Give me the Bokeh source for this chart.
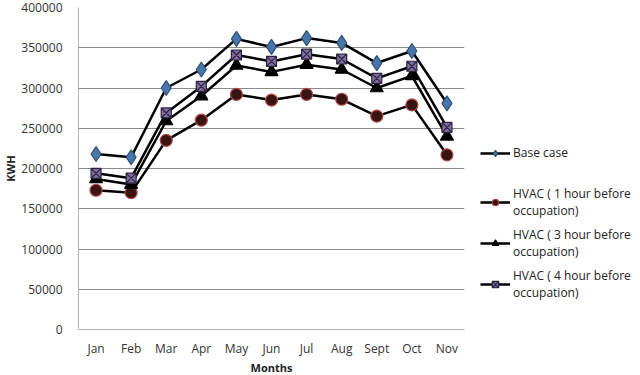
from bokeh.plotting import figure
from bokeh.models import (FactorRange, Range1d, SingleIntervalTicker, BasicTickFormatter,
                          Legend, LegendItem, ColumnDataSource)
from bokeh.embed import file_html
from bokeh.resources import INLINE

months = ["Jan", "Feb", "Mar", "Apr", "May", "Jun", "Jul", "Aug", "Sept", "Oct", "Nov"]
base_case = [218000, 214000, 300000, 323000, 361000, 351000, 362000, 356000, 331000, 346000, 281000]
hvac_1h = [173000, 170000, 235000, 260000, 292000, 285000, 292000, 286000, 265000, 279000, 217000]
hvac_3h = [187000, 180000, 259000, 290000, 328000, 320000, 329000, 323000, 300000, 315000, 240000]
hvac_4h = [194000, 188000, 269000, 302000, 341000, 333000, 342000, 336000, 312000, 327000, 251000]

series = [
    (" \nBase case\n ", base_case, "diamond", "#4a75a8", "#2c4f78", 15),
    ("HVAC ( 1 hour before\noccupation)", hvac_1h, "circle", "#3a1414", "#b04848", 12),
    ("HVAC ( 3 hour before\noccupation)", hvac_3h, "triangle", "#000000", "#000000", 13),
    ("HVAC ( 4 hour before\noccupation)", hvac_4h, "square_x", "#7f6f9f", "#2a2440", 10),
]

FONT = "Open Sans"

p = figure(x_range=FactorRange(*months, range_padding=0), y_range=Range1d(0, 400000),
           frame_width=386, frame_height=322, output_backend="svg", toolbar_location=None,
           min_border_left=78, min_border_top=7, min_border_bottom=0, min_border_right=0)
p.outline_line_color = None
p.background_fill_color = "white"

items = []
for name, vals, marker, fill, line, size in series:
    src = ColumnDataSource(dict(x=months, y=vals))
    r1 = p.line("x", "y", source=src, line_color="black", line_width=2.5)
    r2 = p.scatter("x", "y", source=src, marker=marker, size=size, fill_color=fill,
                   line_color=line, line_width=1.2)
    items.append(LegendItem(label=name, renderers=[r1, r2]))

legend = Legend(items=items, location=(16, 28), border_line_color=None,
                background_fill_alpha=0, label_text_font=FONT, label_text_font_size="12px",
                label_text_color="#222222", glyph_width=30, glyph_height=16,
                label_height=16, spacing=7, padding=0, margin=0, label_standoff=3)
p.add_layout(legend, "right")
p.min_border_right = 176

p.yaxis.ticker = SingleIntervalTicker(interval=50000)
p.yaxis.formatter = BasicTickFormatter(use_scientific=False)
p.xaxis.axis_label = "Months"
p.yaxis.axis_label = "KWH"
for ax in (p.xaxis, p.yaxis):
    ax.axis_label_text_font = FONT
    ax.axis_label_text_font_size = "11px"
    ax.axis_label_text_font_style = "bold"
    ax.axis_label_text_color = "#222222"
    ax.major_label_text_font = FONT
    ax.major_label_text_font_size = "12px"
    ax.major_label_text_color = "#333333"
    ax.major_tick_line_color = None
    ax.minor_tick_line_color = None
    ax.axis_line_color = "#b0b0b0"
p.xaxis.axis_label_standoff = 0
p.yaxis.axis_label_standoff = 0
p.xaxis.major_label_standoff = 4
p.yaxis.major_label_standoff = 10
p.xgrid.grid_line_color = None
p.ygrid.grid_line_color = "#8a8a8a"
p.ygrid.grid_line_width = 1

open("out.html", "w").write(file_html(p, INLINE))
